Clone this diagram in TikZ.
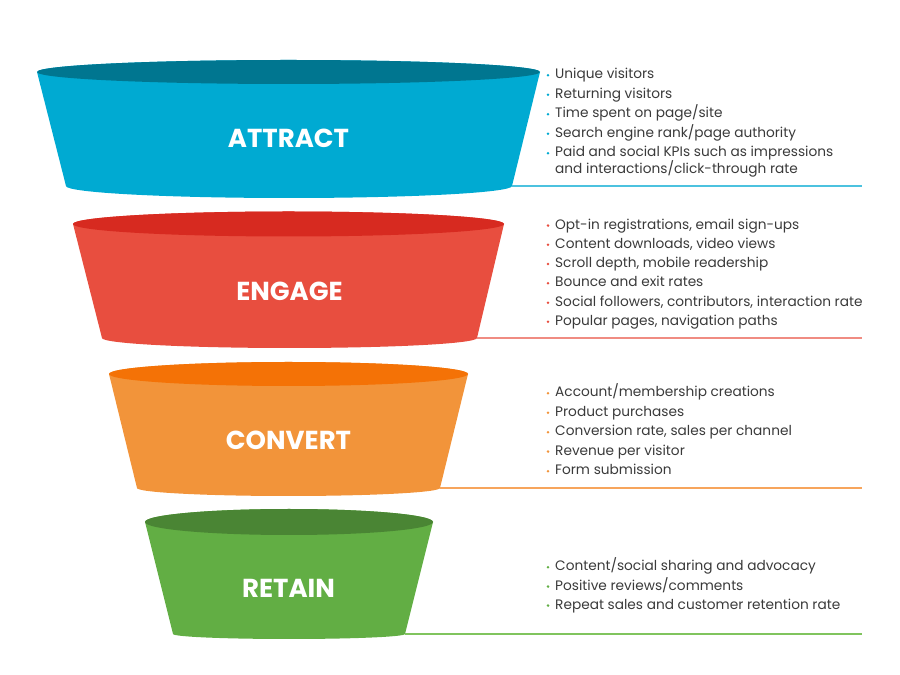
\documentclass[tikz,border=0pt]{standalone}
\usepackage{fontspec}
\setmainfont{Poppins}
\definecolor{aBody}{HTML}{00AAD2}
\definecolor{aTop}{HTML}{007690}
\definecolor{aLine}{HTML}{4CC2DF}
\definecolor{eBody}{HTML}{E84E3F}
\definecolor{eTop}{HTML}{D72A20}
\definecolor{eLine}{HTML}{F08C82}
\definecolor{cBody}{HTML}{F2943A}
\definecolor{cTop}{HTML}{F47206}
\definecolor{cLine}{HTML}{F7A55C}
\definecolor{rBody}{HTML}{62AE44}
\definecolor{rTop}{HTML}{4A8534}
\definecolor{rLine}{HTML}{80C45E}
\definecolor{txt}{HTML}{3A3A3A}
\tikzset{
  stagelabel/.style={text=white,font=\fontsize{26}{30}\selectfont\bfseries,inner sep=0pt},
  itemtext/.style={anchor=west,text=txt,font=\fontsize{13.7}{15}\selectfont,inner sep=0pt,text height=9pt,text depth=3pt},
  sepline/.style={line width=1.1pt},
}
\newcommand{\bulletitem}[4]{% name, y, colour, text
  \fill[#3] (548,#2-2.3) circle (1.4);
  \node[itemtext] (#1) at (555,#2-2.8) {#4};
}
\begin{document}
\begin{tikzpicture}[x=1pt,y=1pt]
\useasboundingbox (0,0) rectangle (900,675);
% ATTRACT
\fill[aBody] (37,603) -- (66,489) arc[start angle=180,end angle=360,x radius=223pt,y radius=12pt] -- (540,603) arc[start angle=0,end angle=180,x radius=251.5pt,y radius=12pt] -- cycle;
\fill[aTop] (288.5,603) ellipse [x radius=251.5pt,y radius=12pt];
\node[stagelabel] (attract) at (288.5,537) {ATTRACT};
\coordinate (aR) at (512,489);
\coordinate (aE) at (862,489);
\draw[sepline,aLine] (aR) -- (aE);
\bulletitem{a1}{602}{aBody}{Unique visitors}
\bulletitem{a2}{582.5}{aBody}{Returning visitors}
\bulletitem{a3}{563}{aBody}{Time spent on page/site}
\bulletitem{a4}{543.5}{aBody}{Search engine rank/page authority}
\bulletitem{a5}{524}{aBody}{Paid and social KPIs such as impressions}
\node[itemtext] (a6) at (555,504.2) {and interactions/click-through rate};
% ENGAGE
\fill[eBody] (73,451) -- (102,337) arc[start angle=180,end angle=360,x radius=187.5pt,y radius=10pt] -- (504,451) arc[start angle=0,end angle=180,x radius=215.5pt,y radius=12.5pt] -- cycle;
\fill[eTop] (288.5,451) ellipse [x radius=215.5pt,y radius=12.5pt];
\node[stagelabel] (engage) at (289.5,384) {ENGAGE};
\coordinate (eR) at (477,337);
\coordinate (eE) at (862,337);
\draw[sepline,eLine] (eR) -- (eE);
\bulletitem{e1}{451.7}{eBody}{Opt-in registrations, email sign-ups}
\bulletitem{e2}{432.5}{eBody}{Content downloads, video views}
\bulletitem{e3}{413.3}{eBody}{Scroll depth, mobile readership}
\bulletitem{e4}{394}{eBody}{Bounce and exit rates}
\bulletitem{e5}{374.5}{eBody}{Social followers, contributors, interaction rate}
\bulletitem{e6}{355.5}{eBody}{Popular pages, navigation paths}
% CONVERT
\fill[cBody] (109,301) -- (137,187) arc[start angle=180,end angle=360,x radius=151.5pt,y radius=8pt] -- (468,301) arc[start angle=0,end angle=180,x radius=179.5pt,y radius=12pt] -- cycle;
\fill[cTop] (288.5,301) ellipse [x radius=179.5pt,y radius=12pt];
\node[stagelabel] (convert) at (288.5,235) {CONVERT};
\coordinate (cR) at (440,187);
\coordinate (cE) at (862,187);
\draw[sepline,cLine] (cR) -- (cE);
\bulletitem{c1}{284}{cBody}{Account/membership creations}
\bulletitem{c2}{264.5}{cBody}{Product purchases}
\bulletitem{c3}{245}{cBody}{Conversion rate, sales per channel}
\bulletitem{c4}{225.7}{cBody}{Revenue per visitor}
\bulletitem{c5}{206}{cBody}{Form submission}
% RETAIN
\fill[rBody] (145,153) -- (173,41) arc[start angle=180,end angle=360,x radius=116pt,y radius=5pt] -- (433,153) arc[start angle=0,end angle=180,x radius=144pt,y radius=13pt] -- cycle;
\fill[rTop] (289,153) ellipse [x radius=144pt,y radius=13pt];
\node[stagelabel] (retain) at (288.5,87) {RETAIN};
\coordinate (rR) at (405,41);
\coordinate (rE) at (862,41);
\draw[sepline,rLine] (rR) -- (rE);
\bulletitem{r1}{110}{rBody}{Content/social sharing and advocacy}
\bulletitem{r2}{90.7}{rBody}{Positive reviews/comments}
\bulletitem{r3}{71.7}{rBody}{Repeat sales and customer retention rate}
\end{tikzpicture}
\end{document}
